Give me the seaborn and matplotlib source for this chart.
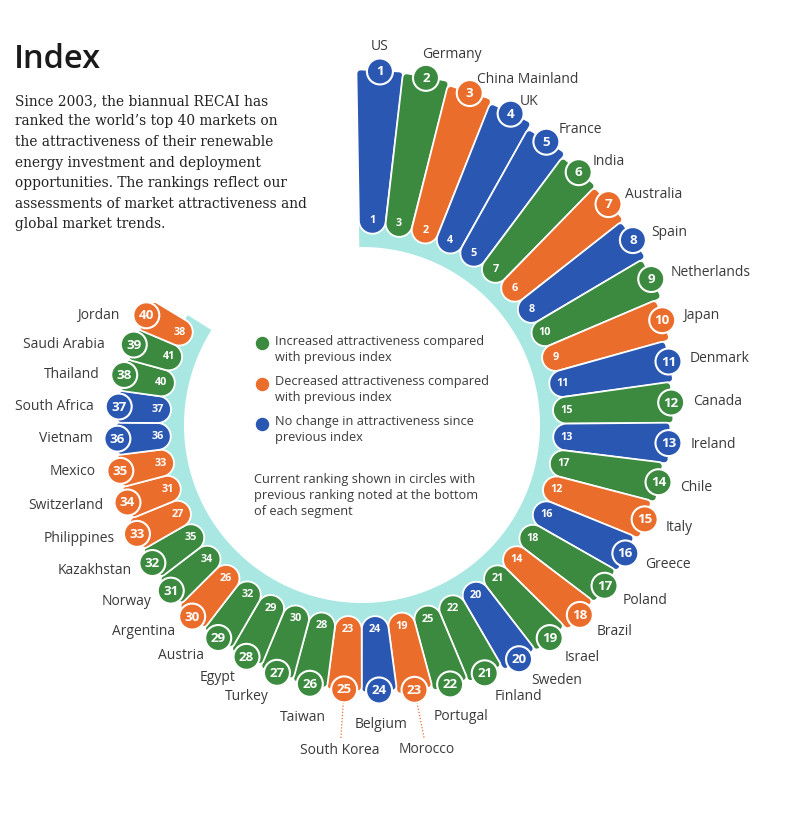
"""RECAI index ring chart."""

import matplotlib

matplotlib.use("Agg")
import matplotlib.pyplot as plt
import numpy as np
import pandas as pd
import seaborn as sns
from matplotlib.patches import Polygon

# ranking data (current rank = position in list)
countries = [
    "US", "Germany", "China Mainland", "UK", "France", "India", "Australia", "Spain",
    "Netherlands", "Japan", "Denmark", "Canada", "Ireland", "Chile", "Italy", "Greece",
    "Poland", "Brazil", "Israel", "Sweden", "Finland", "Portugal", "Morocco", "Belgium",
    "South Korea", "Taiwan", "Turkey", "Egypt", "Austria", "Argentina", "Norway",
    "Kazakhstan", "Philippines", "Switzerland", "Mexico", "Vietnam", "South Africa",
    "Thailand", "Saudi Arabia", "Jordan",
]
current_rank = list(range(1, 41))
previous_rank = [1, 3, 2, 4, 5, 7, 6, 8, 10, 9, 11, 15, 13, 17, 12, 16, 18, 14, 21, 20,
                 22, 25, 19, 24, 23, 28, 30, 29, 32, 26, 34, 35, 27, 31, 33, 36, 37, 40, 41, 38]
# segment length (relative attractiveness)
score = [163, 162, 158, 154, 147, 142, 140, 137, 133, 127, 122, 119, 116, 111, 107, 102,
         100, 98, 93, 91, 86, 83, 79, 75, 74, 73, 71, 68, 66, 65, 62, 60, 59, 56, 55, 54,
         53, 52, 51, 51]

legend_labels = [
    ("up", "Increased attractiveness compared\nwith previous index"),
    ("down", "Decreased attractiveness compared\nwith previous index"),
    ("same", "No change in attractiveness since\nprevious index"),
]
note_text = ("Current ranking shown in circles with\n"
             "previous ranking noted at the bottom\nof each segment")
intro_lines = [
    "Since 2003, the biannual RECAI has",
    "ranked the world\u2019s top 40 markets on",
    "the attractiveness of their renewable",
    "energy investment and deployment",
    "opportunities. The rankings reflect our",
    "assessments of market attractiveness and",
    "global market trends.",
]

palette = {"up": "#3b8a3f", "down": "#ea6d2c", "same": "#2a57b1"}
RING = "#a9e8e2"
TEXT = "#3a3a3a"

# layout of the ring
CX, CY = 362, 425
R_IN = 192
START, STEP = 2.9, 7.54
stagger = {"South Korea", "Morocco"}


def to_xy(r, deg):
    t = np.radians(deg)
    return CX + r * np.sin(t), CY - r * np.cos(t)


def segment(deg_c, r_in, r_out, half, corner=4.0):
    """Wedge with a rounded inner end, built in a local (u, v) frame."""
    hw = np.radians(half)
    r_c = r_in / (1 - np.sin(hw))
    rho = r_c * np.sin(hw)
    u0 = r_c * np.cos(hw)
    pts = []
    # outer end with slightly rounded corners
    w = r_out * np.sin(hw)
    pts.append((r_out * np.cos(hw) - corner, w))
    for a in np.linspace(np.pi / 2, 0, 5):
        pts.append((r_out - corner + corner * np.cos(a), w - corner + corner * np.sin(a)))
    for a in np.linspace(0, -np.pi / 2, 5):
        pts.append((r_out - corner + corner * np.cos(a), -w + corner + corner * np.sin(a)))
    pts.append((u0, -rho))
    for a in np.linspace(-np.pi / 2, -1.5 * np.pi, 24):
        pts.append((u0 + rho * np.cos(a), rho * np.sin(a)))
    t = np.radians(deg_c)
    return [(CX + u * np.sin(t) + v * np.cos(t), CY - u * np.cos(t) + v * np.sin(t))
            for u, v in pts]


df = pd.DataFrame({"country": countries, "rank": current_rank,
                   "prev": previous_rank, "score": score})
df["status"] = np.where(df["prev"] > df["rank"], "up",
                        np.where(df["prev"] < df["rank"], "down", "same"))
df["angle"] = START + STEP * (df["rank"] - 1)
df["r_out"] = R_IN + df["score"]
df["cx"], df["cy"] = to_xy(df["r_out"] - 1, df["angle"])

sns.set_theme(style="white")
plt.rcParams["font.family"] = ["Open Sans", "DejaVu Sans"]

fig = plt.figure(figsize=(8, 8.39), dpi=100)
ax = fig.add_axes([0, 0, 1, 1])

# light ring behind the segments
a0 = df["angle"].iloc[0] - STEP / 2
a1 = df["angle"].iloc[-1] + STEP / 2 + 1.5
arc = np.linspace(a0, a1, 200)
ox, oy = to_xy(206, arc)
ix, iy = to_xy(178, arc[::-1])
ax.add_patch(Polygon(np.column_stack([np.r_[ox, ix], np.r_[oy, iy]]),
                     closed=True, facecolor=RING, edgecolor="none", zorder=1))

for _, row in df.iterrows():
    poly = segment(row["angle"], R_IN, row["r_out"], STEP / 2)
    ax.add_patch(Polygon(poly, closed=True, facecolor=palette[row["status"]],
                         edgecolor="white", linewidth=1.3, zorder=2))
    tx, ty = to_xy(R_IN + 13, row["angle"])
    ax.text(tx, ty, str(row["prev"]), color="white", fontsize=7.8, fontweight="bold",
            ha="center", va="center", zorder=3)

# current rank circles
sns.scatterplot(data=df, x="cx", y="cy", hue="status", palette=palette, s=350,
                edgecolor="white", linewidth=1.5, legend=False, ax=ax, zorder=4)
for _, row in df.iterrows():
    ax.text(row["cx"], row["cy"] + 0.5, str(row["rank"]), color="white", fontsize=9.6,
            fontweight="bold", ha="center", va="center", zorder=5)

# country names
for _, row in df.iterrows():
    deg = row["angle"]
    t = np.radians(deg)
    s, c = np.sin(t), np.cos(t)
    x0, y0 = row["cx"], row["cy"]
    name = row["country"]
    if deg < 5:
        x, y, ha = x0, y0 - 25, "center"
    elif 158 <= deg <= 195:
        d = 34 + (27 if name in stagger else 0)
        x, y, ha = x0 + d * s, y0 - d * c, "center"
        if name in stagger:
            lx0, ly0 = to_xy(row["r_out"] + 12, deg)
            lx1, ly1 = to_xy(row["r_out"] + 49, deg)
            ax.plot([lx0, lx1], [ly0, ly1], color=palette[row["status"]],
                    linestyle=(0, (1, 1.5)), linewidth=0.9, zorder=1)
    elif deg < 180:
        x = x0 + 22 * s
        y = y0 - (14 * c if c > 0 else 26 * c)
        ha = "left"
        if name == "Germany":
            x, y = x - 8, y - 10
    else:
        x = x0 + 25 * s - (5 if c > 0.3 else 0)
        y = y0 + (26 * c * c if c < 0 else 0)
        ha = "right"
    ax.text(x, y, name, color=TEXT, fontsize=10, ha=ha, va="center", zorder=5)

# legend in the middle
for i, (key, text) in enumerate(legend_labels):
    ly = 343 + i * 40.5
    ax.scatter([262], [ly], s=75, color=palette[key], zorder=5)
    ax.text(275, ly - 8.5, text, color=TEXT, fontsize=9.2, ha="left", va="top",
            linespacing=1.3)
ax.text(254, 473, note_text, color=TEXT, fontsize=9.2, ha="left", va="top",
        linespacing=1.3)

# title and intro
ax.text(14, 68, "Index", color="#1a1a1a", fontsize=23.5, fontweight="semibold",
        ha="left", va="baseline")
for i, line in enumerate(intro_lines):
    ax.text(15, 101 + i * 20.5, line, color="#222222", fontsize=9.9,
            family="DejaVu Serif", ha="left", va="center")

ax.set_xlim(0, 800)
ax.set_ylim(839, 0)
ax.axis("off")
fig.savefig("out.png", dpi=100, facecolor="white")
